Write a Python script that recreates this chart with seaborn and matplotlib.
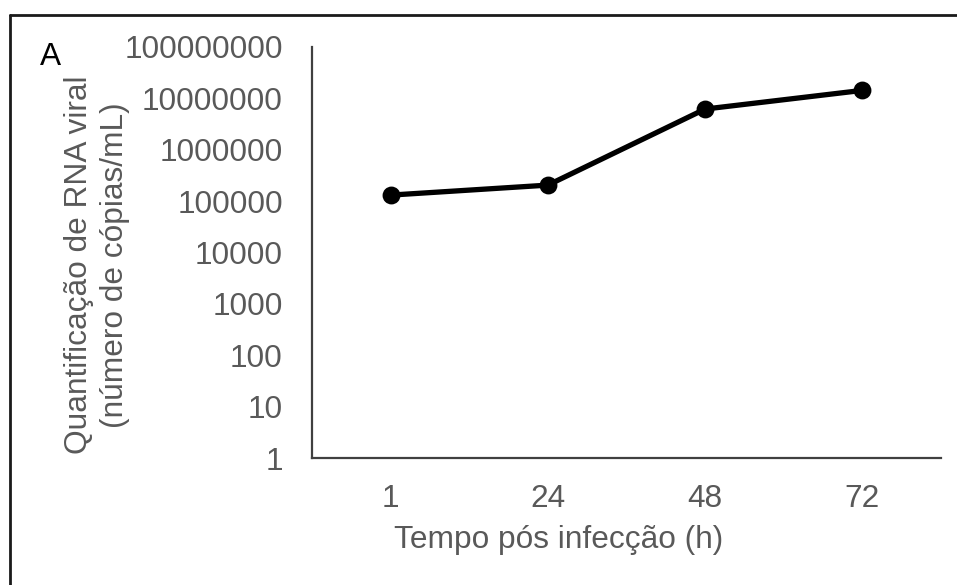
import matplotlib
matplotlib.use("Agg")
import matplotlib.pyplot as plt
from matplotlib.lines import Line2D
from matplotlib.ticker import FixedLocator, FuncFormatter, NullLocator
import seaborn as sns
import pandas as pd

# Viral RNA load over time after infection
hours = ["1", "24", "48", "72"]
copies_per_ml = [1.31e5, 2.05e5, 6.2e6, 1.43e7]
y_ticks = [1, 10, 100, 1000, 10000, 100000, 1000000, 10000000, 100000000]

sns.set_theme(style="white")
plt.rcParams["font.family"] = ["Liberation Sans", "DejaVu Sans"]

W, H = 957, 585
fig = plt.figure(figsize=(W / 100, H / 100), dpi=100)
fig.patch.set_facecolor("white")

ax = fig.add_axes([312 / W, 1 - 458 / H, (941 - 312) / W, (458 - 47) / H])

df = pd.DataFrame({"Tempo": hours, "Copias": copies_per_ml})
sns.pointplot(data=df, x="Tempo", y="Copias", order=hours, color="black",
              markers="o", markersize=10, linewidth=3.8, errorbar=None, ax=ax)

ax.set_yscale("log")
ax.set_ylim(1, 1e8)
ax.set_xlim(-0.5, len(hours) - 0.5)
ax.yaxis.set_major_locator(FixedLocator(y_ticks))
ax.yaxis.set_minor_locator(NullLocator())
ax.yaxis.set_major_formatter(FuncFormatter(lambda v, p: f"{int(round(v))}"))

fs = 22.8
grey = "#595959"
ax.tick_params(axis="both", length=0, labelsize=fs, labelcolor=grey)
ax.tick_params(axis="y", pad=21)
ax.tick_params(axis="x", pad=19)
ax.set_xlabel("")
ax.set_ylabel("")
ax.grid(False)
for side in ["top", "right"]:
    ax.spines[side].set_visible(False)
for side in ["left", "bottom"]:
    ax.spines[side].set_color("#404040")
    ax.spines[side].set_linewidth(1.6)
ax.set_facecolor("white")

fig.text(559 / W, 1 - 540 / H, "Tempo pós infecção (h)", ha="center", va="center",
         fontsize=fs, color=grey)
fig.text(97 / W, 1 - 265 / H, "Quantificação de RNA viral\n(número de cópias/mL)",
         ha="center", va="center", rotation=90, fontsize=fs, color=grey,
         multialignment="center", linespacing=1.3)
fig.text(50 / W, 1 - 57 / H, "A", ha="center", va="center", fontsize=fs, color="black")

# panel frame
fig.add_artist(Line2D([10 / W, 10 / W], [0, 1 - 15 / H], color="#1a1a1a", lw=2,
                      transform=fig.transFigure))
fig.add_artist(Line2D([10 / W, 1], [1 - 15 / H, 1 - 15 / H], color="#1a1a1a", lw=2,
                      transform=fig.transFigure))

fig.savefig("out.png", dpi=100, facecolor="white")
